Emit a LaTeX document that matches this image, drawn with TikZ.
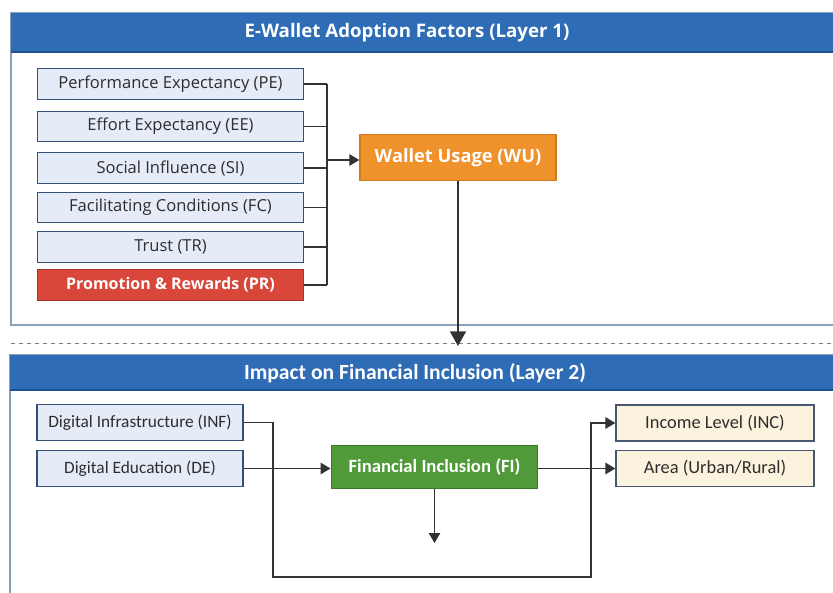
\documentclass[tikz,border=0pt]{standalone}
\usepackage{fontspec}
\setmainfont{Open Sans}
\newfontfamily\narrowfont{Carlito}
\usetikzlibrary{arrows.meta}
\definecolor{headblue}{RGB}{46,108,182}
\definecolor{headedge}{RGB}{30,80,145}
\definecolor{framegray}{RGB}{140,160,182}
\definecolor{boxfill}{RGB}{229,236,247}
\definecolor{boxedge}{RGB}{52,80,120}
\definecolor{prfill}{RGB}{216,71,58}
\definecolor{predge}{RGB}{170,50,40}
\definecolor{wufill}{RGB}{240,146,43}
\definecolor{wuedge}{RGB}{210,120,30}
\definecolor{fifill}{RGB}{80,154,58}
\definecolor{fiedge}{RGB}{58,120,42}
\definecolor{creamfill}{RGB}{252,243,222}
\definecolor{creamedge}{RGB}{72,88,112}
\definecolor{txtgray}{RGB}{45,45,45}
\definecolor{linegray}{RGB}{50,50,50}
\tikzset{
	factorbox/.style={draw=boxedge, fill=boxfill, line width=0.9pt, minimum width=200pt, minimum height=23pt, inner sep=0pt, text=txtgray, font=\fontsize{12.4}{14}\selectfont},
	redbox/.style={factorbox, draw=predge, fill=prfill, text=white, font=\fontsize{12}{14}\selectfont\bfseries},
	usagebox/.style={draw=wuedge, fill=wufill, line width=0.9pt, minimum width=147pt, minimum height=34pt, inner sep=0pt, text=white, font=\fontsize{13.7}{16}\selectfont\bfseries},
	lowbox/.style={draw=boxedge, fill=boxfill, line width=0.9pt, minimum width=154.5pt, minimum height=27pt, inner sep=0pt, text=txtgray, font=\narrowfont\fontsize{13}{15}\selectfont},
	greenbox/.style={draw=fiedge, fill=fifill, line width=0.9pt, minimum width=155pt, minimum height=32pt, inner sep=0pt, text=white, font=\narrowfont\fontsize{14}{16}\selectfont\bfseries},
	creambox/.style={lowbox, fill=creamfill, draw=creamedge, minimum width=148.5pt, font=\narrowfont\fontsize{13.8}{16}\selectfont},
	wire/.style={draw=linegray, line width=1.4pt},
	arrow/.style={wire, -{Triangle[width=8.5pt,length=7.5pt]}},
	bigarrow/.style={wire, -{Triangle[width=12pt,length=11pt]}},
}

\begin{document}
\begin{tikzpicture}[x=0.75pt,y=-0.75pt]
			%%%%% START %%%%%
			\useasboundingbox (0,0) rectangle (833,593);
			\clip (0,0) rectangle (833,593);
			
			% layer 1 frame
			\draw[framegray, line width=0.8pt] (11,13) rectangle (850,325);
			\fill[headblue] (11,13) rectangle (850,52);
			\draw[headedge, line width=1pt] (11,52) -- (850,52);
			\node[text=white, font=\fontsize{14}{16}\selectfont\bfseries] (title1) at (407,33) {E-Wallet Adoption Factors (Layer 1)};
			
			\node[factorbox] (pe) at (170.5,84) {Performance Expectancy (PE)};
			\node[factorbox] (ee) at (170.5,126.5) {Effort Expectancy (EE)};
			\node[factorbox] (si) at (170.5,168) {Social Influence (SI)};
			\node[factorbox] (fc) at (170.5,207.5) {Facilitating Conditions (FC)};
			\node[factorbox] (tr) at (170.5,247) {Trust (TR)};
			\node[redbox] (pr) at (170.5,285) {Promotion \& Rewards (PR)};
			
			\node[usagebox] (wu) at (458,157.5) {Wallet Usage (WU)};
			
			\coordinate (bus) at (327,160);
			\foreach \f in {pe,ee,si,fc,tr,pr}
				\draw[wire] (\f.east) -- (\f.east -| bus);
			\draw[wire] (pe.east -| bus) -- (pr.east -| bus);
			\draw[arrow] (bus) -- (bus -| wu.west);
			
			% divider
			\coordinate (drop) at (458,346);
			\draw[gray, dashed, line width=0.5pt] (11,343) -- (833,343);
			\draw[bigarrow] (wu.south) -- (wu.south |- drop);
			
			% layer 2 frame
			\draw[framegray, line width=0.8pt] (10,355) rectangle (850,610);
			\fill[headblue] (10,355) rectangle (850,390);
			\draw[headedge, line width=1pt] (10,390) -- (850,390);
			\node[text=white, font=\narrowfont\fontsize{16.2}{18}\selectfont\bfseries] (title2) at (415,373) {Impact on Financial Inclusion (Layer 2)};
			
			\node[lowbox] (inf) at (140,422.5) {Digital Infrastructure (INF)};
			\node[lowbox] (de) at (140,468.5) {Digital Education (DE)};
			\node[greenbox] (fi) at (434.5,467) {Financial Inclusion (FI)};
			\node[creambox] (inc) at (715,423) {Income Level (INC)};
			\node[creambox] (area) at (715,468.5) {Area (Urban/Rural)};
			
			\coordinate (loopl) at (273,577);
			\coordinate (loopr) at (591,577);
			\coordinate (fiend) at (434.5,543);
			
			\draw[arrow] (de.east) -- (de.east -| fi.west);
			\draw[arrow] (fi.east |- area.west) -- (area.west);
			\draw[arrow] (fi.south) -- (fiend);
			\draw[arrow] (inf.east) -| (loopl) -- (loopr) |- (inc.west);
			
			%%%%% END %%%%%
\end{tikzpicture}
\end{document}
